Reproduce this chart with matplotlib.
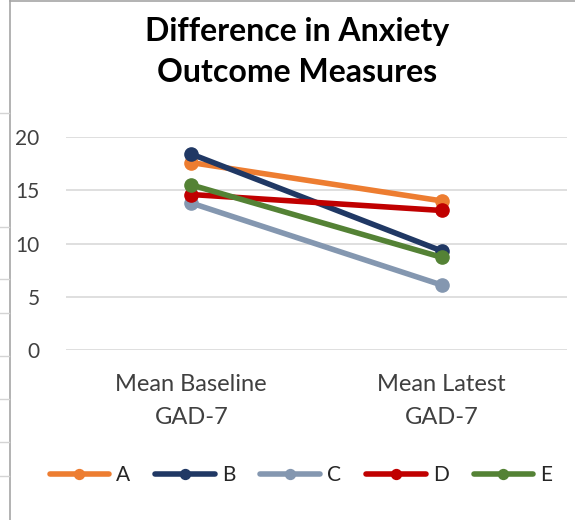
import matplotlib
matplotlib.use("Agg")
import matplotlib.pyplot as plt
from matplotlib.lines import Line2D

categories = ["Mean Baseline\nGAD-7", "Mean Latest\nGAD-7"]
series_names = ["A", "B", "C", "D", "E"]
A = [17.6, 14.0]
B = [18.4, 9.3]
C = [13.8, 6.1]
D = [14.6, 13.1]
E = [15.5, 8.7]
values = [A, B, C, D, E]
colors = ["#ED7D31", "#203864", "#8497B0", "#C00000", "#548235"]
yticks = [0, 5, 10, 15, 20]

plt.rcParams['font.family'] = ['Lato', 'DejaVu Sans']

W, H = 575, 520
fig = plt.figure(figsize=(W / 100, H / 100), dpi=100)

# surrounding spreadsheet frame
def fx(x): return x / W
def fy(y): return 1 - y / H
fig.add_artist(Line2D([fx(9.5), fx(9.5)], [0, 1], color="#A6A6A6", lw=1.2))
fig.add_artist(Line2D([fx(9.5), 1], [fy(1), fy(1)], color="#A6A6A6", lw=1.2))
for yy in [113, 227, 279, 313, 356, 399, 442, 476]:
    fig.add_artist(Line2D([0, fx(9)], [fy(yy), fy(yy)], color="#D4D4D4", lw=1))

ax = fig.add_axes([fx(66), fy(350), fx(567) - fx(66), (350 - 137) / H])
x = list(range(len(categories)))
for name, vals, c in zip(series_names, values, colors):
    ax.plot(x, vals, color=c, lw=4, marker="o", markersize=9.5,
            solid_capstyle="round", label=name, zorder=3)

ax.set_xlim(-0.5, 1.5)
ax.set_ylim(0, 20)
ax.set_yticks(yticks)
ax.set_yticklabels([str(t) for t in yticks], fontsize=15, color="#404040")
ax.set_xticks(x)
ax.set_xticklabels(categories, fontsize=17, color="#404040", linespacing=1.7)
ax.tick_params(axis="both", length=0)
ax.tick_params(axis="y", pad=19)
ax.tick_params(axis="x", pad=17)
ax.grid(axis="y", color="#D9D9D9", lw=1.2)
ax.set_axisbelow(True)
for s in ax.spines.values():
    s.set_visible(False)

fig.text(fx(297), fy(52), "Difference in Anxiety\nOutcome Measures", ha="center",
         va="center", fontsize=23, fontweight="bold", color="#000000", linespacing=1.5)

leg = fig.legend(loc="center", bbox_to_anchor=(fx(301), fy(475)), ncol=5,
                 frameon=False, fontsize=15, handlelength=2.85, columnspacing=1.2,
                 handletextpad=0.35, markerscale=0.75)
for t in leg.get_texts():
    t.set_color("#262626")

fig.savefig("out.png", dpi=100)
